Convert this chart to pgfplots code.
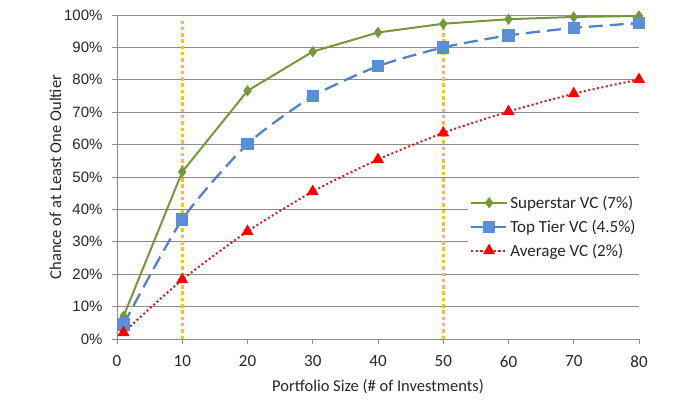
\documentclass[border=0pt]{standalone}
\usepackage{pgfplots}
\pgfplotsset{compat=1.18}
\usepackage{fontspec}
\setmainfont{Carlito}
\newfontfamily\arialf{Liberation Sans}
\definecolor{cgreen}{HTML}{77983A}
\definecolor{cblue}{HTML}{4F85C8}
\definecolor{cbluem}{HTML}{5A8FD6}
\definecolor{cred}{HTML}{D01E24}
\definecolor{cgold}{HTML}{F2C12E}
\definecolor{cgrid}{HTML}{8C8C8C}
\begin{document}
\begin{tikzpicture}
\path[use as bounding box] (-117pt,-60pt) rectangle (559pt,339pt);
\begin{axis}[
  scale only axis, width=522pt, height=324pt,
  at={(0pt,0pt)}, anchor=south west,
  xmin=0, xmax=80, ymin=0, ymax=100,
  xtick={0,10,...,80}, ytick={0,10,...,100},
  axis lines*=left,
  axis line style={cgrid, line width=0.8pt, -},
  ymajorgrids, grid style={cgrid, line width=0.8pt},
  tick style={cgrid, line width=0.8pt},
  tick align=outside, major tick length=5pt,
  /pgf/number format/assume math mode=true,
  yticklabel={\pgfmathprintnumber{\tick}\%},
  xticklabel style={font=\fontsize{17}{19}\selectfont, text=black!85, yshift=-8pt},
  yticklabel style={font=\arialf\fontsize{15}{17}\selectfont, text=black!85, xshift=-6pt},
  xlabel={Portfolio Size (\# of Investments)},
  ylabel={Chance of at Least One Oultier},
  label style={font=\fontsize{16.5}{18}\selectfont, text=black!85},
  xlabel style={yshift=-5pt},
  ylabel style={yshift=-4pt},
  legend cell align=left,
  legend style={at={(0.672,0.455)}, anchor=north west, draw=none, fill=white,
    font=\fontsize{17}{19}\selectfont, row sep=6pt, inner sep=2pt,
    text=black!85},
  legend image code/.code={%
    \draw[mark repeat=2,mark phase=2,#1] plot coordinates {(0pt,0pt)(18pt,0pt)(36pt,0pt)};},
]
\addplot[cgold, line width=3.5pt, dash pattern=on 3.5pt off 2.8pt, forget plot] coordinates {(10,0)(10,98)};
\addplot[cgold, line width=3.5pt, dash pattern=on 3.5pt off 2.8pt, forget plot] coordinates {(50,0)(50,98)};
\addplot[cgreen, line width=2pt, mark=diamond*, mark size=4pt, mark options={solid, fill=cgreen}] coordinates {
(1,7.0)(10,51.6)(20,76.6)(30,88.7)(40,94.6)(50,97.3)(60,98.7)(70,99.4)(80,99.7)};
\addlegendentry{Superstar VC (7\%)}
\addplot[cblue, line width=2.3pt, dash pattern=on 14pt off 7pt, smooth, tension=0.4, mark=square*, mark size=5pt, mark options={solid, fill=cbluem, draw=cbluem}] coordinates {
(1,4.5)(10,36.9)(20,60.2)(30,74.9)(40,84.2)(50,90.0)(60,93.7)(70,96.0)(80,97.5)};
\addlegendentry{Top Tier VC (4.5\%)}
\addplot[cred, line width=2pt, dash pattern=on 2pt off 2.5pt, smooth, tension=0.4, mark=triangle*, mark size=5pt, mark options={solid, fill=red, draw=red}] coordinates {
(1,2.0)(10,18.3)(20,33.2)(30,45.5)(40,55.4)(50,63.6)(60,70.2)(70,75.7)(80,80.1)};
\addlegendentry{Average VC (2\%)}
\end{axis}
\end{tikzpicture}
\end{document}
